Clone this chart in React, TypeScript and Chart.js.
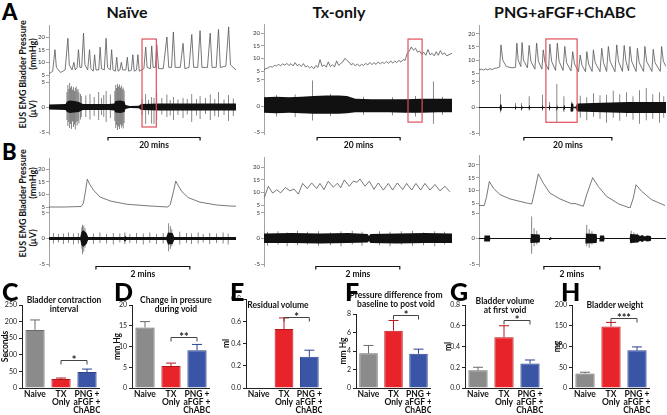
import React, { useEffect, useRef } from "react";
import { Chart, registerables } from "chart.js";

Chart.register(...registerables);

const FONT = "Lato, 'Open Sans', 'Liberation Sans', Arial, sans-serif";

// ---------------- tick labels ----------------
const PRESSURE_TICKS = [5, 10, 15, 20];
const EMG_TICKS = [-5, 0, 5];

// ---------------- Panel A : 40-min recordings (x = minutes) ----------------
// bladder pressure [min, mmHg]
const A_NAIVE_PRESSURE = [
  [0, 5.5], [0.8, 6.5], [1.3, 15], [1.6, 8], [2.5, 6], [3.5, 7], [4.1, 19.5], [4.4, 9], [5.0, 7], [5.4, 10], [5.7, 7],
  [6.1, 8], [6.4, 15], [6.7, 8], [7.1, 8], [7.5, 21.5], [7.8, 9], [8.4, 7], [8.8, 15], [9.1, 7.5], [9.6, 6.5], [9.9, 13],
  [10.2, 7], [10.8, 7], [11.1, 16], [11.4, 7.5], [12.0, 7], [12.4, 19.5], [12.7, 8], [13.3, 7], [13.6, 15], [13.9, 7],
  [14.4, 6.5], [14.7, 12], [15.0, 6.5], [15.4, 7], [15.7, 10], [16.0, 7], [16.7, 7], [17.0, 12], [17.3, 6.5], [17.9, 7],
  [18.2, 13], [18.5, 6.5], [19.0, 7], [19.3, 13], [19.6, 6.5], [20.6, 7.5], [21.0, 16], [21.3, 8], [22.0, 7.5], [22.3, 16.5],
  [22.6, 8], [23.1, 8], [23.4, 17], [23.8, 7.5], [24.8, 7.5], [25.6, 20], [26.0, 8], [26.6, 8], [27.0, 22], [27.4, 8],
  [28.5, 8], [29.1, 17.5], [29.5, 7.5], [30.4, 8], [31.0, 21], [31.4, 8], [32.3, 8], [32.8, 22.5], [33.2, 8], [34.4, 8],
  [35.0, 21.5], [35.4, 8], [36.3, 8], [36.8, 23], [37.2, 8], [38.4, 8.5], [39.0, 24], [39.4, 9], [40.6, 7],
];
const A_TX_PRESSURE = [
  [0, 5.5], [0.5, 6.0], [1, 6.2], [1.5, 6.8], [2, 6.5], [2.5, 7.2], [3, 7.0], [3.5, 7.6], [4, 7.1], [4.5, 7.8], [5, 7.3],
  [5.5, 8.0], [6, 7.2], [6.5, 7.9], [7, 7.0], [7.5, 8.3], [8, 7.1], [8.5, 7.6], [9, 6.8], [9.5, 7.9], [10, 6.6], [10.5, 7.0],
  [11, 6.2], [11.5, 6.8], [12, 5.9], [12.5, 7.2], [13, 6.4], [13.5, 9.5], [14, 6.8], [14.5, 7.4], [15, 6.5], [15.5, 8.6],
  [16, 6.7], [16.5, 7.5], [17, 6.6], [17.5, 9.0], [18, 7.2], [18.5, 8.0], [19, 8.6], [19.5, 10.0], [20, 9.2], [20.5, 8.5],
  [21, 7.4], [21.5, 8.0], [22, 7.0], [22.5, 7.8], [23, 6.9], [23.5, 7.6], [24, 7.2], [24.5, 8.0], [25, 7.4], [25.5, 8.4],
  [26, 7.5], [26.5, 8.3], [27, 7.6], [27.5, 8.6], [28, 7.8], [28.5, 8.5], [29, 7.9], [29.5, 8.8], [30, 8.0], [30.5, 9.0],
  [31, 8.1], [31.5, 8.9], [32, 8.3], [32.5, 9.2], [33, 8.5], [33.5, 9.5], [34, 9.2], [34.5, 12.0], [35, 12.8], [35.5, 14.5],
  [36, 13.2], [36.5, 14.0], [37, 12.4], [37.5, 12.9], [38, 11.6], [38.5, 12.4], [39, 11.2], [39.5, 13.5], [40, 11.4],
  [40.5, 12.0], [41, 11.0], [41.5, 12.6], [42, 11.2], [42.5, 13.0], [43, 11.5], [43.5, 12.2], [44, 11.0], [45.3, 12.0],
];
const A_PNG_PRESSURE = [
  [0, 6.2], [0.5, 6.5], [1, 6.1], [1.5, 6.6], [2, 6.2], [2.5, 6.7], [3, 6.3], [3.5, 6.8], [4, 6.9], [4.7, 7.3], [5.0, 15.8],
  [5.4, 10], [6.2, 7.5], [7.5, 7], [8.3, 7.2], [8.6, 16.5], [8.9, 10], [9.5, 7.5], [9.8, 16.7], [10.1, 10], [11.0, 7],
  [11.4, 15.6], [11.8, 9.5], [12.7, 6.5], [13.1, 16.5], [13.5, 9.5], [14.3, 6.5], [14.6, 13.9], [15.0, 9], [15.8, 6.2],
  [16.1, 16.1], [16.5, 9.5], [17.4, 6], [17.8, 16.5], [18.2, 9.5], [19.1, 6], [19.5, 15.2], [19.9, 9], [20.9, 5.8],
  [21.3, 13.2], [21.7, 8.5], [22.6, 5.5], [23.0, 11.9], [23.4, 8], [24.2, 5.5], [24.5, 13.2], [24.9, 8.5], [25.7, 5.6],
  [26.0, 13.9], [26.4, 9], [27.5, 5.5], [27.9, 14.5], [28.3, 9], [29.0, 5.6], [29.4, 15.2], [29.8, 9.5], [30.9, 5.5],
  [31.3, 15.8], [31.7, 9.5], [32.6, 5.6], [33.0, 15.6], [33.4, 9.5], [34.0, 5.8], [34.3, 15.2], [34.7, 9.5], [35.7, 5.6],
  [36.0, 14.5], [36.4, 9], [37.4, 5.6], [37.7, 15.2], [38.1, 9.5], [39.3, 5.6], [39.6, 14.1], [40.0, 9], [41.2, 5.6],
  [41.5, 15.2], [41.9, 9.5], [42.5, 7.5],
];
// EUS EMG envelope of the dense activity band [min, upper µV, lower µV]
const A_NAIVE_EMG_BAND = [
  [0, 0.5, -0.5], [3.6, 0.6, -0.6], [3.9, 1.1, -1.0], [4.5, 1.3, -1.2], [5.5, 1.2, -1.1], [6.5, 1.0, -1.0], [7.1, 0.7, -0.7],
  [7.4, 0.6, -0.6], [9, 0.6, -0.6], [11, 0.6, -0.6], [13, 0.6, -0.6], [14.2, 0.7, -0.7], [14.4, 1.2, -1.1], [15.5, 1.3, -1.2],
  [16.4, 1.1, -1.0], [16.6, 0.4, -0.4], [17.5, 0.2, -0.2], [19.5, 0.25, -0.25], [20, 0.6, -0.6], [24, 0.7, -0.7],
  [28, 0.7, -0.7], [32, 0.7, -0.7], [36, 0.7, -0.7], [40.6, 0.7, -0.7],
];
// individual EMG discharges [min, low µV, high µV]
const A_NAIVE_EMG_SPIKES = [
  [3.9, -2.6, 3.0], [4.1, -3.8, 4.4], [4.3, -3.0, 3.6], [4.5, -4.2, 4.8], [4.7, -3.4, 3.9], [4.9, -4.4, 4.2], [5.1, -2.9, 3.5],
  [5.3, -4.0, 4.0], [5.5, -3.5, 3.2], [5.7, -4.5, 3.8], [5.9, -3.0, 4.1], [6.1, -3.7, 3.3], [6.3, -2.8, 3.6], [6.5, -3.3, 2.9],
  [6.8, -2.5, 2.6], [7.0, -2.0, 2.2], [8.0, -2.0, 2.3], [8.9, -2.5, 2.6], [9.8, -1.8, 2.0], [10.8, -2.6, 3.0], [11.4, -1.6, 1.8],
  [11.9, -2.0, 2.4], [12.4, -3.0, 3.2], [13.3, -2.2, 2.5], [14.3, -2.8, 3.2], [14.5, -4.2, 4.4], [14.7, -3.6, 3.8],
  [14.9, -4.6, 4.6], [15.1, -3.9, 4.1], [15.3, -4.4, 4.5], [15.5, -3.5, 3.9], [15.7, -4.1, 4.3], [15.9, -3.7, 3.6],
  [16.1, -4.3, 3.9], [16.3, -3.2, 3.3], [20.2, -1.6, 1.5], [21.0, -3.4, 2.6], [21.6, -1.5, 1.4], [22.3, -3.3, 2.0],
  [22.8, -3.4, 1.8], [23.4, -2.5, 2.8], [24.5, -1.5, 1.8], [25.6, -2.0, 2.5], [26.3, -1.7, 1.4], [27.0, -2.6, 2.0],
  [28.0, -1.6, 1.5], [29.1, -2.2, 1.8], [30.0, -1.5, 1.6], [31.0, -3.0, 2.6], [32.0, -1.7, 1.6], [32.8, -2.4, 2.2],
  [34.0, -1.4, 1.8], [35.0, -2.6, 2.5], [36.0, -1.8, 1.6], [36.8, -2.0, 3.0], [38.0, -1.6, 1.5], [39.0, -2.8, 2.4],
  [40.0, -1.8, 1.7],
];
const A_TX_EMG_BAND = [
  [0, 1.7, -1.3], [3, 1.8, -1.4], [6, 1.7, -1.3], [9, 1.8, -1.4], [12, 1.9, -1.5], [15, 2.0, -1.5], [18, 2.0, -1.5],
  [20, 1.9, -1.4], [22, 1.4, -1.2], [26, 1.3, -1.2], [30, 1.3, -1.2], [34, 1.3, -1.3], [38, 1.4, -1.3], [42, 1.4, -1.2],
  [45.3, 1.4, -1.2],
];
const A_TX_EMG_SPIKES = [
  [3.0, -2.0, 2.1], [7.5, -2.1, 2.2], [11.7, -2.8, 4.9], [16.0, -1.9, 2.3], [24.0, -1.7, 1.8], [31.0, -1.8, 1.7],
  [36.5, -2.0, 1.9], [40.8, -3.4, 4.7], [43.0, -1.7, 1.8],
];
const A_PNG_EMG_BAND = [
  [0, 0.12, -0.12], [4.7, 0.12, -0.12], [4.8, 0.6, -0.6], [5.1, 0.6, -0.6], [5.2, 0.12, -0.12], [8.2, 0.12, -0.12],
  [8.3, 0.4, -0.4], [8.5, 0.12, -0.12], [9.6, 0.12, -0.12], [9.7, 0.5, -0.5], [9.9, 0.12, -0.12], [11.3, 0.12, -0.12],
  [11.4, 0.5, -0.5], [11.6, 0.12, -0.12], [14.3, 0.12, -0.12], [14.4, 0.5, -0.5], [14.6, 0.12, -0.12], [15.9, 0.12, -0.12],
  [16.0, 0.5, -0.5], [16.2, 0.12, -0.12], [17.6, 0.12, -0.12], [17.7, 0.6, -0.6], [17.9, 0.12, -0.12], [19.2, 0.12, -0.12],
  [19.3, 0.6, -0.6], [19.6, 0.12, -0.12], [20.8, 0.12, -0.12], [20.9, 0.8, -0.8], [21.4, 0.8, -0.8], [21.5, 0.12, -0.12],
  [22.0, 0.2, -0.2], [22.3, 0.8, -0.8], [26, 0.9, -0.9], [30, 1.0, -1.0], [34, 1.1, -1.1], [38, 1.1, -1.1], [42.5, 1.1, -1.1],
];
const A_PNG_EMG_SPIKES = [
  [4.9, -1.0, 2.6], [8.3, -0.4, 0.9], [9.7, -0.6, 0.9], [11.4, -0.6, 2.2], [14.4, -0.6, 2.5], [16.0, -0.6, 1.1],
  [17.7, -2.8, 4.6], [19.3, -0.9, 2.2], [21.1, -0.8, 1.2], [23, -2.0, 2.3], [24.5, -2.5, 2.0], [26, -1.8, 2.8],
  [27.5, -2.2, 2.4], [29, -3.0, 2.5], [30.5, -2.0, 3.3], [32, -2.6, 2.6], [33.5, -1.8, 3.0], [35, -2.4, 2.2],
  [36.5, -3.2, 3.4], [38, -2.5, 3.8], [39.5, -2.2, 2.6], [41, -3.0, 3.0], [42, -2.0, 2.2],
];

// ---------------- Panel B : expanded recordings (x = seconds) ----------------
const B_NAIVE_PRESSURE = [
  [0, 5], [20, 5], [41, 5.2], [44, 6.5], [47, 12], [49, 16], [52, 14], [57, 11.6], [65, 9], [78, 7.4], [99, 6.1],
  [129, 5.4], [152, 5.0], [155, 6], [159, 11], [162, 15.2], [166, 13], [170, 11], [178, 8.7], [193, 6.9], [214, 5.8],
  [231, 5.4], [239, 5.3],
];
const B_TX_PRESSURE = [
  [0.5, 8.0], [6.2, 12.4], [12.4, 9.7], [18.1, 11.0], [23.8, 9.8], [30.5, 11.9], [37.1, 10.6], [42.9, 11.3], [49.0, 9.3],
  [55.2, 13.5], [61.9, 11.5], [68.1, 13.7], [75.2, 11.5], [80, 13.5], [85.7, 11.1], [91.9, 14.4], [99.0, 12.0],
  [104.8, 13.6], [109.5, 11.8], [114.8, 14.9], [121.9, 12.4], [127.6, 14.4], [133.3, 14.0], [137.1, 15.3], [144.3, 12.4],
  [150.5, 14.4], [157.1, 11.2], [163.3, 13.7], [170.5, 10.9], [177.6, 13.5], [183.8, 10.9], [190.5, 13.7], [198.1, 11.1],
  [203.8, 13.5], [211.0, 10.9], [217.1, 13.5], [223.8, 10.9], [230.0, 13.5], [237.1, 10.9], [244.3, 13.1], [251.4, 10.6],
  [258.6, 12.4], [265.7, 10.2],
];
const B_PNG_PRESSURE = [
  [0, 4.0], [11.4, 4.0], [16.4, 7.6], [22.1, 13.5], [30.7, 10.9], [45, 8.3], [66.4, 6.6], [102, 5.0], [112.9, 4.6],
  [120, 10.2], [127.1, 16.5], [137.9, 12.8], [152.1, 8.9], [173.6, 6.6], [198.6, 4.7], [205.7, 4.8], [223.6, 3.7],
  [230.7, 8.3], [243.6, 15.0], [255.7, 11.5], [273.6, 7.6], [298.6, 4.7], [323.6, 3.0], [330.7, 7.0], [336.4, 12.2],
  [348.6, 9.6], [370, 6.3], [398.6, 4.0],
];
const B_NAIVE_EMG_BAND = [
  [0, 0.3, -0.3], [40, 0.3, -0.3], [41.5, 1.3, -1.3], [44, 1.6, -1.6], [48, 1.1, -1.1], [50, 0.3, -0.3], [96, 0.3, -0.3],
  [97, 0.6, -0.6], [99, 0.3, -0.3], [150, 0.3, -0.3], [152, 1.2, -1.2], [158, 1.1, -1.1], [160, 0.3, -0.3], [239, 0.3, -0.3],
];
const B_NAIVE_EMG_SPIKES = [
  [5.5, -1.0, 1.1], [11.9, -0.8, 0.9], [18.3, -1.1, 1.0], [24.7, -0.9, 1.2], [31.1, -1.2, 1.0], [37.4, -1.0, 1.1],
  [42, -2.0, 2.2], [43, -3.1, 2.7], [44.5, -2.6, 2.5], [46, -1.8, 2.0], [56.6, -1.1, 1.0], [65.1, -0.9, 1.2],
  [73.6, -1.0, 0.9], [82.1, -1.2, 1.1], [90.6, -0.8, 1.0], [97.0, -1.1, 1.2], [103.4, -0.9, 0.9], [111.9, -1.0, 1.1],
  [120.4, -1.2, 1.0], [128.9, -0.9, 1.2], [137.4, -1.1, 0.9], [145.9, -1.0, 1.1], [153, -2.5, 3.0], [155, -2.0, 2.4],
  [157, -1.5, 1.8], [167.2, -1.2, 1.3], [175.7, -0.9, 1.1], [182.1, -1.1, 1.0], [190.6, -1.0, 1.2], [197.0, -0.8, 0.9],
  [205.5, -1.1, 1.1], [214.0, -0.9, 1.0], [222.5, -1.0, 1.2], [228.9, -1.2, 1.0],
];
const B_TX_EMG_BAND = [
  [0, 1.0, -0.9], [40, 1.1, -0.9], [80, 1.0, -1.0], [120, 1.1, -0.9], [148, 0.9, -0.8], [150, 0.5, -0.5], [152, 0.9, -0.9],
  [190, 1.0, -1.0], [230, 1.1, -0.9], [268.6, 1.0, -0.9],
];
const B_TX_EMG_SPIKES = [
  [5, -1.4, 1.3], [20, -1.2, 1.4], [33, -1.5, 1.2], [48, -1.3, 1.5], [62, -1.2, 1.3], [78, -1.4, 1.4], [95, -1.3, 1.2],
  [110, -1.5, 1.4], [126, -1.2, 1.5], [140, -1.4, 1.3], [165, -1.3, 1.4], [180, -1.5, 1.3], [196, -1.2, 1.4],
  [212, -1.4, 1.5], [228, -1.3, 1.2], [244, -1.5, 1.4], [258, -1.2, 1.3],
];
const B_PNG_EMG_BAND = [
  [0, 0.1, -0.1], [11, 0.1, -0.1], [11.5, 0.6, -0.6], [23.5, 0.6, -0.6], [24, 0.1, -0.1], [110, 0.1, -0.1], [111, 0.9, -0.9],
  [130, 0.8, -0.8], [131, 0.1, -0.1], [150, 0.1, -0.1], [152, 0.3, -0.3], [156, 0.1, -0.1], [228, 0.1, -0.1],
  [229, 1.0, -1.0], [252, 0.9, -0.9], [253, 0.1, -0.1], [258, 0.1, -0.1], [259, 0.6, -0.6], [268, 0.6, -0.6],
  [269, 0.1, -0.1], [323, 0.1, -0.1], [324, 0.9, -0.9], [340, 0.8, -0.8], [345, 0.5, -0.5], [350, 0.7, -0.7],
  [355, 0.4, -0.4], [360, 0.6, -0.6], [368, 0.5, -0.5], [369, 0.1, -0.1], [400.7, 0.1, -0.1],
];
const B_PNG_EMG_SPIKES = [
  [113, -3.0, 4.3], [118, -1.5, 2.0], [124, -1.2, 1.5], [231, -1.5, 2.7], [236, -1.8, 1.8], [242, -1.2, 1.4],
  [326, -1.0, 1.5], [332, -0.9, 1.2], [340, -0.8, 1.0],
];

// ---------------- Panels C-H : bar charts ----------------
const BAR_CATEGORIES = ["Naive", ["TX", "Only"], ["PNG +", "aFGF +", "ChABC"]];
const BAR_FILL = ["#8b8b8b", "#e8232a", "#3b55a6"];
const BAR_EDGE = ["#6a6a6a", "#b8161d", "#2b4290"];

const C_VALUES = [175, 27, 48];
const C_ERRORS = [30, 3, 9];
const C_TICKS = [0, 50, 100, 150, 200, 250];
const D_VALUES = [14.6, 5.3, 9.1];
const D_ERRORS = [1.4, 0.7, 1.4];
const D_TICKS = [0, 5, 10, 15, 20];
const E_VALUES = [0, 0.53, 0.28];
const E_ERRORS = [0, 0.1, 0.06];
const E_TICKS = [0, 0.2, 0.4, 0.6, 0.8];
const F_VALUES = [3.75, 6.2, 3.7];
const F_ERRORS = [0.85, 1.1, 0.5];
const F_TICKS = [0, 2, 4, 6, 8];
const G_VALUES = [0.17, 0.49, 0.235];
const G_ERRORS = [0.03, 0.11, 0.035];
const G_TICKS = [0, 0.2, 0.4, 0.6, 0.8];
const H_VALUES = [35, 148, 91];
const H_ERRORS = [3, 10, 8];
const H_TICKS = [0, 50, 100, 150, 200];

// ---------------- layout helpers ----------------
const T_AXW = 16, T_PADT = 6, T_PADR = 2, T_PADB = 20;

function lin(v1: number, p1: number, v2: number, p2: number, top: number, bottom: number) {
  const s = (p1 - p2) / (v2 - v1);
  return { min: v1 - (bottom - p1) / s, max: v2 + (p2 - top) / s };
}

const TRACES = [
  { key: "a1", axisX: 49, right: 236, top: 25, split: 79, bottom: 134, pCal: [5, 75, 20, 37], eCal: [-5, 132, 5, 82], tMax: 40.6,
    pressure: A_NAIVE_PRESSURE, band: A_NAIVE_EMG_BAND, spikes: A_NAIVE_EMG_SPIKES, bar: { t0: 12.8, t1: 32.8, y: 137, label: "20 mins" },
    box: { t0: 20.2, t1: 23.3, pTop: 19.2, eBottom: -4.0 } },
  { key: "a2", axisX: 264, right: 452, top: 24, split: 76, bottom: 134, pCal: [5, 71, 20, 33], eCal: [-5, 132, 5, 80], tMax: 45.3,
    pressure: A_TX_PRESSURE, band: A_TX_EMG_BAND, spikes: A_TX_EMG_SPIKES, bar: { t0: 12.8, t1: 32.8, y: 137, label: "20 mins" },
    box: { t0: 34.7, t1: 38.1, pTop: 17.6, eBottom: -3.1 } },
  { key: "a3", axisX: 479, right: 666, top: 25, split: 78, bottom: 135, pCal: [5, 73, 20, 34], eCal: [-5, 133, 5, 82], tMax: 42.5,
    pressure: A_PNG_PRESSURE, band: A_PNG_EMG_BAND, spikes: A_PNG_EMG_SPIKES, bar: { t0: 10.2, t1: 30.2, y: 137, label: "20 mins" },
    box: { t0: 15.2, t1: 22.3, pTop: 18.1, eBottom: -2.9 } },
  { key: "b1", axisX: 49, right: 236, top: 158, split: 210, bottom: 266, pCal: [5, 207, 20, 169], eCal: [-5, 264, 5, 213], tMax: 239,
    pressure: B_NAIVE_PRESSURE, band: B_NAIVE_EMG_BAND, spikes: B_NAIVE_EMG_SPIKES, bar: { t0: 60, t1: 180, y: 266, label: "2 mins" } },
  { key: "b2", axisX: 264, right: 452, top: 157, split: 209, bottom: 266, pCal: [5, 205, 20, 167], eCal: [-5, 264, 5, 213], tMax: 268.6,
    pressure: B_TX_PRESSURE, band: B_TX_EMG_BAND, spikes: B_TX_EMG_SPIKES, bar: { t0: 74, t1: 194, y: 266, label: "2 mins" } },
  { key: "b3", axisX: 479, right: 666, top: 155, split: 208, bottom: 266, pCal: [5, 203, 20, 165], eCal: [-5, 264, 5, 213], tMax: 400.7,
    pressure: B_PNG_PRESSURE, band: B_PNG_EMG_BAND, spikes: B_PNG_EMG_SPIKES, bar: { t0: 139, t1: 259, y: 266, label: "2 mins" } },
];

const BAR_PADT = 16, BAR_XAXH = 27, BAR_BOTTOM = 388;

const BARS = [
  { key: "C", canvasLeft: 0, areaLeft: 22, areaRight: 100, areaTop: 305, max: 250, ticks: C_TICKS, dec: 0, title: "Seconds",
    values: C_VALUES, errors: C_ERRORS, sig: { y: 84, text: "*" } },
  { key: "D", canvasLeft: 112, areaLeft: 132, areaRight: 210, areaTop: 305, max: 20, ticks: D_TICKS, dec: 0, title: "mm Hg",
    values: D_VALUES, errors: D_ERRORS, sig: { y: 12.3, text: "**" } },
  { key: "E", canvasLeft: 221, areaLeft: 246, areaRight: 322, areaTop: 299, max: 0.8, ticks: E_TICKS, dec: 1, title: "ml",
    values: E_VALUES, errors: E_ERRORS, sig: { y: 0.635, text: "*" } },
  { key: "F", canvasLeft: 338, areaLeft: 356, areaRight: 431, areaTop: 314, max: 8, ticks: F_TICKS, dec: 0, title: "mm Hg",
    values: F_VALUES, errors: F_ERRORS, sig: { y: 7.9, text: "*" } },
  { key: "G", canvasLeft: 443, areaLeft: 465, areaRight: 543, areaTop: 305, max: 0.8, ticks: G_TICKS, dec: 1, title: "ml",
    values: G_VALUES, errors: G_ERRORS, sig: { y: 0.655, text: "*" } },
  { key: "H", canvasLeft: 552, areaLeft: 572, areaRight: 650, areaTop: 305, max: 200, ticks: H_TICKS, dec: 0, title: "mg",
    values: H_VALUES, errors: H_ERRORS, sig: { y: 169, text: "***" } },
];

// ---------------- chart configs ----------------
function traceAxis(ticks: number[], range: any, weight: number, stackWeight: number) {
  return {
    type: "linear",
    position: "left",
    stack: "trace",
    stackWeight,
    weight,
    min: range.min,
    max: range.max,
    afterBuildTicks: (ax: any) => { ax.ticks = ticks.map((v) => ({ value: v })); },
    afterFit: (ax: any) => { ax.width = T_AXW; ax.paddingTop = 0; ax.paddingBottom = 0; },
    grid: { display: true, drawOnChartArea: false, drawTicks: true, tickLength: 3, color: "#8a8a8a", lineWidth: 0.8 },
    border: { display: true, color: "#8a8a8a", width: 0.8 },
    ticks: { font: { family: FONT, size: 6 }, color: "#333", padding: 1, autoSkip: false, callback: (v: any) => String(v) },
  };
}

function traceConfig(s: any) {
  const pr = lin(s.pCal[0], s.pCal[1], s.pCal[2], s.pCal[3], s.top, s.split);
  const er = lin(s.eCal[0], s.eCal[1], s.eCal[2], s.eCal[3], s.split, s.bottom);
  const cTop = s.top - T_PADT;
  const overlay = {
    id: "traceOverlay" + s.key,
    afterDraw(chart: any) {
      const ctx = chart.ctx;
      const x = chart.scales.x;
      ctx.save();
      if (s.box) {
        const x0 = x.getPixelForValue(s.box.t0);
        const x1 = x.getPixelForValue(s.box.t1);
        const y0 = chart.scales.yP.getPixelForValue(s.box.pTop);
        const y1 = chart.scales.yE.getPixelForValue(s.box.eBottom);
        ctx.strokeStyle = "#e0505a";
        ctx.lineWidth = 1.2;
        ctx.strokeRect(x0, y0, x1 - x0, y1 - y0);
      }
      const b0 = x.getPixelForValue(s.bar.t0);
      const b1 = x.getPixelForValue(s.bar.t1);
      const by = s.bar.y - cTop + 0.5;
      ctx.strokeStyle = "#111";
      ctx.lineWidth = 1.2;
      ctx.beginPath();
      ctx.moveTo(b0, by + 3);
      ctx.lineTo(b0, by);
      ctx.lineTo(b1, by);
      ctx.lineTo(b1, by + 3);
      ctx.stroke();
      ctx.fillStyle = "#111";
      ctx.font = `bold 8.5px ${FONT}`;
      ctx.textAlign = "center";
      ctx.textBaseline = "middle";
      ctx.fillText(s.bar.label, (b0 + b1) / 2, by + 8);
      ctx.restore();
    },
  };
  return {
    type: "line",
    data: {
      datasets: [
        { data: s.pressure.map((p: number[]) => ({ x: p[0], y: p[1] })), yAxisID: "yP", borderColor: "#555", borderWidth: 0.8,
          pointRadius: 0, tension: 0, fill: false },
        { data: s.band.map((p: number[]) => ({ x: p[0], y: p[1] })), yAxisID: "yE", borderWidth: 0, borderColor: "rgba(0,0,0,0)",
          backgroundColor: "#111", pointRadius: 0, tension: 0, fill: "+1" },
        { data: s.band.map((p: number[]) => ({ x: p[0], y: p[2] })), yAxisID: "yE", borderWidth: 0, borderColor: "rgba(0,0,0,0)",
          pointRadius: 0, tension: 0, fill: false },
        { type: "bar", data: s.spikes.map((p: number[]) => ({ x: p[0], y: [p[1], p[2]] })), yAxisID: "yE",
          barThickness: 0.7, inflateAmount: 0, backgroundColor: "#555", borderWidth: 0, grouped: false },
      ],
    },
    options: {
      responsive: false,
      animation: false,
      events: [],
      layout: { padding: { left: 0, top: T_PADT, right: T_PADR, bottom: T_PADB } },
      plugins: { legend: { display: false }, tooltip: { enabled: false } },
      scales: {
        x: { type: "linear", display: false, min: 0, max: s.tMax, offset: false },
        yP: traceAxis(PRESSURE_TICKS, pr, 2, s.split - s.top),
        yE: traceAxis(EMG_TICKS, er, 1, s.bottom - s.split),
      },
    },
    plugins: [overlay],
  };
}

function barConfig(s: any) {
  const extras = {
    id: "barExtras" + s.key,
    afterDatasetsDraw(chart: any) {
      const ctx = chart.ctx;
      const meta = chart.getDatasetMeta(0);
      const y = chart.scales.y;
      ctx.save();
      s.errors.forEach((e: number, i: number) => {
        if (!e) return;
        const x = meta.data[i].x;
        const y0 = y.getPixelForValue(s.values[i]);
        const y1 = y.getPixelForValue(s.values[i] + e);
        ctx.strokeStyle = BAR_EDGE[i];
        ctx.lineWidth = 1;
        ctx.beginPath();
        ctx.moveTo(x, y0);
        ctx.lineTo(x, y1);
        ctx.moveTo(x - 5, y1);
        ctx.lineTo(x + 5, y1);
        ctx.stroke();
      });
      const xa = meta.data[1].x;
      const xb = meta.data[2].x;
      const yb = Math.round(y.getPixelForValue(s.sig.y)) + 0.5;
      ctx.strokeStyle = "#444";
      ctx.lineWidth = 1;
      ctx.beginPath();
      ctx.moveTo(xa, yb + 4);
      ctx.lineTo(xa, yb);
      ctx.lineTo(xb, yb);
      ctx.lineTo(xb, yb + 4);
      ctx.stroke();
      ctx.fillStyle = "#222";
      ctx.font = `bold 11px ${FONT}`;
      ctx.textAlign = "center";
      ctx.textBaseline = "alphabetic";
      ctx.fillText(s.sig.text, (xa + xb) / 2, yb + 3);
      ctx.restore();
    },
  };
  return {
    type: "bar",
    data: {
      labels: BAR_CATEGORIES,
      datasets: [
        { data: s.values, backgroundColor: BAR_FILL, borderColor: BAR_EDGE, borderWidth: 1, barPercentage: 0.74,
          categoryPercentage: 1 },
      ],
    },
    options: {
      responsive: false,
      animation: false,
      events: [],
      layout: { padding: { left: 0, top: BAR_PADT, right: 0, bottom: 0 } },
      plugins: { legend: { display: false }, tooltip: { enabled: false } },
      scales: {
        x: {
          grid: { display: false, drawTicks: false },
          border: { display: true, color: "#222", width: 1 },
          afterFit: (ax: any) => { ax.height = BAR_XAXH; ax.paddingLeft = 0; ax.paddingRight = 0; },
          ticks: { font: { family: FONT, size: 8.5, weight: "bold", lineHeight: 0.95 }, color: "#111", padding: 2,
            maxRotation: 0, autoSkip: false },
        },
        y: {
          min: 0,
          max: s.max,
          afterBuildTicks: (ax: any) => { ax.ticks = s.ticks.map((v: number) => ({ value: v })); },
          afterFit: (ax: any) => { ax.width = s.areaLeft - s.canvasLeft; ax.paddingTop = 0; ax.paddingBottom = 0; },
          grid: { display: true, drawOnChartArea: false, drawTicks: true, tickLength: 3, color: "#222" },
          border: { display: true, color: "#222", width: 1 },
          ticks: { font: { family: FONT, size: 7 }, color: "#222", padding: 2, autoSkip: false,
            callback: (v: any) => Number(v).toFixed(s.dec) },
          title: { display: true, text: s.title, font: { family: FONT, size: 8.5, weight: "bold" }, color: "#111",
            padding: 0 },
        },
      },
    },
    plugins: [extras],
  };
}

// ---------------- components ----------------
function CanvasChart({ left, top, width, height, make }: any) {
  const ref = useRef<HTMLCanvasElement | null>(null);
  useEffect(() => {
    const chart = new Chart(ref.current as HTMLCanvasElement, make());
    return () => chart.destroy();
  }, []);
  return (
    <canvas ref={ref} width={width} height={height}
      style={{ position: "absolute", left, top, width, height }} />
  );
}

function Txt({ x, y, size, children, bold = true, lh }: any) {
  return (
    <div style={{ position: "absolute", left: x, top: y, transform: "translate(-50%, -50%)", fontSize: size,
      fontWeight: bold ? 700 : 400, whiteSpace: "nowrap", textAlign: "center", lineHeight: lh || 1, color: "#111" }}>
      {children}
    </div>
  );
}

function VTxt({ x, y, size, lines }: any) {
  return (
    <div style={{ position: "absolute", left: x, top: y, transform: "translate(-50%, -50%) rotate(-90deg)",
      fontSize: size, fontWeight: 700, whiteSpace: "nowrap", textAlign: "center", lineHeight: "10px", color: "#111" }}>
      {lines.map((l: string, i: number) => <div key={i}>{l}</div>)}
    </div>
  );
}

function Letter({ x, y, size, children }: any) {
  return (
    <div style={{ position: "absolute", left: x, top: y, fontSize: size, fontWeight: 900, lineHeight: 1, color: "#000" }}>
      {children}
    </div>
  );
}

export default function App() {
  return (
    <div style={{ position: "fixed", left: 0, top: 0, width: 667, height: 415, background: "#fff", overflow: "hidden",
      fontFamily: FONT }}>
      <Letter x={2} y={1} size={22}>A</Letter>
      <Letter x={2} y={141} size={22}>B</Letter>
      <Txt x={127} y={12} size={16}>Naïve</Txt>
      <Txt x={339} y={12} size={16}>Tx-only</Txt>
      <Txt x={565} y={12} size={16}>PNG+aFGF+ChABC</Txt>
      <VTxt x={28} y={54} size={9} lines={["Bladder Pressure", "(mmHg)"]} />
      <VTxt x={28} y={109} size={9} lines={["EUS EMG", "(µV)"]} />
      <VTxt x={28} y={183} size={9} lines={["Bladder Pressure", "(mmHg)"]} />
      <VTxt x={28} y={238} size={9} lines={["EUS EMG", "(µV)"]} />

      {TRACES.map((s) => {
        const left = s.axisX - T_AXW;
        const top = s.top - T_PADT;
        const width = s.right - left + T_PADR;
        const height = s.bottom - s.top + T_PADT + T_PADB;
        return <CanvasChart key={s.key} left={left} top={top} width={width} height={height} make={() => traceConfig(s)} />;
      })}

      {BARS.map((s) => {
        const top = s.areaTop - BAR_PADT;
        const width = s.areaRight - s.canvasLeft;
        const height = BAR_BOTTOM - s.areaTop + BAR_PADT + BAR_XAXH;
        return <CanvasChart key={s.key} left={s.canvasLeft} top={top} width={width} height={height} make={() => barConfig(s)} />;
      })}

      <Letter x={2} y={279} size={25}>C</Letter>
      <Letter x={114} y={279} size={25}>D</Letter>
      <Letter x={230} y={279} size={25}>E</Letter>
      <Letter x={345} y={279} size={25}>F</Letter>
      <Letter x={450} y={279} size={25}>G</Letter>
      <Letter x={561} y={279} size={25}>H</Letter>
      <Txt x={64} y={305} size={8.5} lh="9px"><div>Bladder contraction</div><div>interval</div></Txt>
      <Txt x={176} y={305} size={8.5} lh="9px"><div>Change in pressure</div><div>during void</div></Txt>
      <Txt x={278} y={305} size={8.5}>Residual volume</Txt>
      <Txt x={396} y={300} size={8.5} lh="9px"><div>Pressure difference from</div><div>baseline to post void</div></Txt>
      <Txt x={505} y={306} size={8.5} lh="9px"><div>Bladder volume</div><div>at first void</div></Txt>
      <Txt x={615} y={305} size={8.5}>Bladder weight</Txt>
    </div>
  );
}
